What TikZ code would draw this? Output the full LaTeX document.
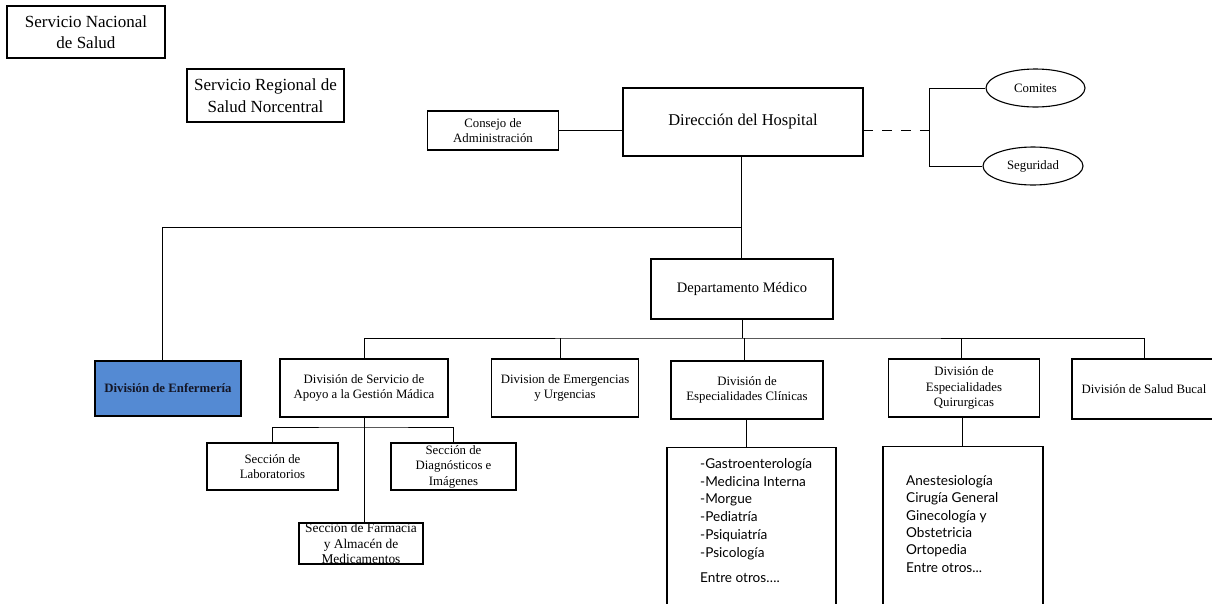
\documentclass[tikz,border=0pt]{standalone}
\usepackage{fontspec}
\setmainfont{Liberation Serif}
\newfontfamily\listfont{Lato}
\usetikzlibrary{shapes.geometric}
\definecolor{enfblue}{RGB}{84,138,211}
\definecolor{enftext}{RGB}{20,22,38}
\begin{document}
\begin{tikzpicture}[x=1pt,y=-1pt,
  orgbox/.style={draw, line width=1.1pt, align=center, inner sep=0pt},
  oval/.style={draw, ellipse, line width=1.1pt, inner sep=0pt},
  conn/.style={line width=1pt},
  big/.style={font=\fontsize{17}{21.5}\selectfont},
  mid/.style={font=\fontsize{16.5}{20}\selectfont},
  med/.style={font=\fontsize{14.5}{17}\selectfont},
  sml/.style={font=\fontsize{12.8}{15.5}\selectfont},
  lst/.style={font=\listfont\fontsize{13.6}{17.8}\selectfont, align=left, inner sep=0pt}
]
\useasboundingbox (0,0) rectangle (1212,603);
\clip (0,0) rectangle (1212,603);

% top level
\node[orgbox, big, minimum width=158pt, minimum height=52pt] (sns) at (86,32) {Servicio Nacional\\de Salud};
\node[orgbox, big, minimum width=157pt, minimum height=53pt] (srs) at (265.5,95.5) {Servicio Regional de\\Salud Norcentral};
\node[orgbox, sml, minimum width=130.5pt, minimum height=39pt] (cons) at (493,130.5) {Consejo de\\Administración};
\node[orgbox, mid, minimum width=240pt, minimum height=68pt] (dir) at (743,122) {Dirección del Hospital};
\node[oval, sml, minimum width=99pt, minimum height=38pt] (com) at (1035.5,88) {Comites};
\node[oval, sml, minimum width=100pt, minimum height=38pt] (seg) at (1033,166) {Seguridad};

\node[orgbox, med, minimum width=182pt, minimum height=60pt] (dep) at (742,289) {Departamento Médico};

% divisions
\node[orgbox, sml, fill=enfblue, text=enftext, font=\bfseries\fontsize{12.8}{15.5}\selectfont, minimum width=146pt, minimum height=55pt] (enf) at (168,388.5) {División de Enfermería};
\node[orgbox, sml, minimum width=168pt, minimum height=58pt] (ds) at (364,388) {División de Servicio de\\Apoyo a la Gestión Mádica};
\node[orgbox, sml, minimum width=146.5pt, minimum height=58pt] (em) at (565,388) {Division de Emergencias\\y Urgencias};
\node[orgbox, sml, minimum width=152pt, minimum height=58pt] (cl) at (747,390) {División de\\Especialidades Clínicas};
\node[orgbox, sml, minimum width=151.5pt, minimum height=58pt] (qu) at (964,388) {División de\\Especialidades\\Quirurgicas};
\node[orgbox, sml, minimum width=144pt, minimum height=60pt] (sb) at (1144,389) {División de Salud Bucal};

% sections
\node[orgbox, sml, minimum width=131pt, minimum height=47pt] (lab) at (272.5,466.5) {Sección de\\Laboratorios};
\node[orgbox, sml, minimum width=125pt, minimum height=47pt] (diag) at (453.5,466.5) {Sección de\\Diagnósticos e\\Imágenes};
\node[orgbox, sml, minimum width=124pt, minimum height=41pt, font=\fontsize{13.4}{15.5}\selectfont] (far) at (361,543.5) {Sección de Farmacia\\y Almacén de\\Medicamentos};

% list boxes
\node[orgbox, minimum width=169pt, minimum height=170pt, anchor=north] (cll) at (751.5,447) {};
\node[orgbox, minimum width=160pt, minimum height=170pt, anchor=north] (qul) at (963,446) {};
\node[lst, anchor=north west] (clt) at (700,458) {-Gastroenterología\\-Medicina Interna\\-Morgue\\-Pediatría\\-Psiquiatría\\-Psicología\\[7pt]Entre otros….};
\node[lst, anchor=north west, font=\listfont\fontsize{13.6}{17.4}\selectfont] (qut) at (906,475) {Anestesiología\\Cirugía General\\Ginecología y\\Obstetricia\\Ortopedia\\Entre otros...};

% connectors
\coordinate (br) at (929,130);
\coordinate (jn) at (741,227);
\coordinate (bus) at (742,338);
\coordinate (sub) at (364,427);

\draw[conn] (cons.east) -- (cons.east -| dir.west);
\draw[conn, dash pattern=on 9.5pt off 9.3pt] (dir.east |- br) -- (br);
\draw[conn] (com.west) -| (br) |- (seg.west);
\draw[conn] (dir.south -| jn) -- (jn) -- (jn |- dep.north);
\draw[conn] (jn) -| ([xshift=-6pt]enf.north);
\draw[conn] (dep.south -| bus) -- (bus);
\draw[conn] (ds.north) |- (bus) -| (sb.north);
\draw[conn] ([xshift=-5pt]em.north) -- ([xshift=-5pt]em.north |- bus);
\draw[conn] ([xshift=-3pt]cl.north) -- ([xshift=-3pt]cl.north |- bus);
\draw[conn] ([xshift=-3pt]qu.north) -- ([xshift=-3pt]qu.north |- bus);
\draw[conn] (ds.south) -- (ds.south |- far.north);
\draw[conn] (lab.north) |- (sub) -| (diag.north);
\draw[conn] ([xshift=-1pt]cl.south) -- ([xshift=-1pt]cl.south |- cll.north);
\draw[conn] ([xshift=-2pt]qu.south) -- ([xshift=-2pt]qu.south |- qul.north);
\end{tikzpicture}
\end{document}
